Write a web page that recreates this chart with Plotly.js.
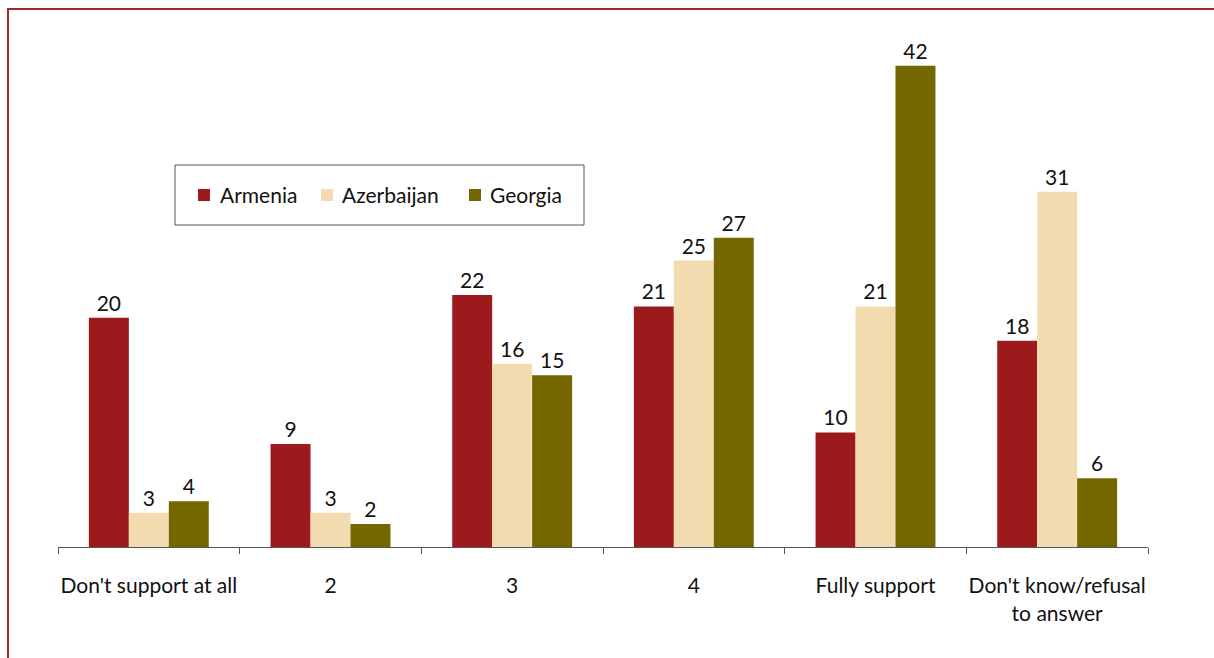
<!DOCTYPE html>
<html>
<head>
<meta charset="utf-8">
<script src="https://cdn.plot.ly/plotly-3.0.1.min.js"></script>
<style>
html,body{margin:0;padding:0;background:#fff;}
#wrap{position:relative;width:1214px;height:658px;overflow:hidden;}
#frame{position:absolute;left:7px;top:8px;width:1220px;height:660px;border-top:2px solid #9b2b2b;border-left:2px solid #9b2b2b;box-sizing:border-box;pointer-events:none;}
#chart{position:absolute;left:0;top:0;width:1214px;height:658px;}
</style>
</head>
<body>
<div id="wrap">
<div id="chart"></div>
<div id="frame"></div>
</div>
<script>
var categories = ["Don't support at all", "2", "3", "4", "Fully support", "Don't know/refusal<br>to answer"];
var armenia = [20, 9, 22, 21, 10, 18];
var azerbaijan = [3, 3, 16, 25, 21, 31];
var georgia = [4, 2, 15, 27, 42, 6];
var seriesNames = ["Armenia", "Azerbaijan", "Georgia"];
var seriesColors = ['#9c1a1c', '#f3dbb0', '#746700'];

var FONT = "Lato, 'Open Sans', sans-serif";
var FS = 21;
function mk(i, vals) {
  return {
    type: 'bar', name: seriesNames[i], x: categories, y: vals,
    text: vals.map(String), textposition: 'outside', cliponaxis: false,
    textfont: {family: FONT, size: FS, color: '#111'},
    marker: {color: seriesColors[i], line: {width: 0}},
    hoverinfo: 'skip', showlegend: false
  };
}
var data = [mk(0, armenia), mk(1, azerbaijan), mk(2, georgia)];

// plot area in pixels (for placing the custom legend)
var L = 58, R = 66, T = 20, B = 111, W = 1214, H = 658;
var pw = W - L - R, ph = H - T - B;
function px(x) { return (x - L) / pw; }
function py(y) { return (H - B - y) / ph; }

var shapes = [{
  type: 'rect', xref: 'paper', yref: 'paper',
  x0: px(175), x1: px(584), y0: py(225), y1: py(165),
  line: {color: '#555', width: 1}, fillcolor: '#fff', layer: 'below'
}];
var annotations = [];
var sqX = [198, 321, 469], txX = [218, 340, 488];
for (var i = 0; i < seriesNames.length; i++) {
  shapes.push({
    type: 'rect', xref: 'paper', yref: 'paper',
    x0: px(sqX[i]), x1: px(sqX[i] + 12), y0: py(201), y1: py(189),
    line: {width: 0}, fillcolor: seriesColors[i]
  });
  annotations.push({
    xref: 'paper', yref: 'paper', x: px(txX[i]), y: py(195),
    xanchor: 'left', yanchor: 'middle', showarrow: false,
    text: seriesNames[i], font: {family: FONT, size: FS, color: '#111'}
  });
}

var layout = {
  width: W, height: H,
  margin: {l: L, r: R, t: T, b: B},
  paper_bgcolor: 'rgba(0,0,0,0)', plot_bgcolor: 'rgba(0,0,0,0)',
  barmode: 'group', bargap: 0.34, bargroupgap: 0,
  font: {family: FONT, size: FS, color: '#111'},
  showlegend: false,
  shapes: shapes, annotations: annotations,
  xaxis: {
    type: 'category', showline: true, linecolor: '#555', linewidth: 1,
    ticks: 'outside', tickson: 'boundaries', ticklen: 6, tickcolor: '#555',
    showgrid: false, zeroline: false, fixedrange: true, ticklabelstandoff: 20,
    tickangle: 0, automargin: false,
    tickfont: {family: FONT, size: FS, color: '#111'}
  },
  yaxis: {
    range: [0, 46], visible: false, showgrid: false, zeroline: false, fixedrange: true
  }
};
Plotly.newPlot('chart', data, layout, {displayModeBar: false, staticPlot: true});
</script>
</body>
</html>
